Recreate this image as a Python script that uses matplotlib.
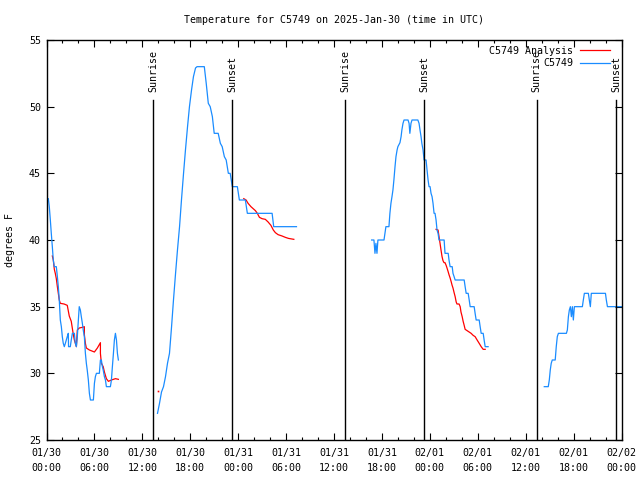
import matplotlib
matplotlib.use("Agg")
import matplotlib.pyplot as plt
import matplotlib.transforms as mtransforms
import numpy as np

# hours since 2025-01-30 00:00 UTC
blue_t1 = [0.23, 0.35, 0.48, 0.6, 0.73, 0.85, 0.98, 1.23, 1.36, 1.48, 1.6, 1.73, 1.86, 1.98, 2.1, 2.23, 2.36,
           2.48, 2.6, 2.73, 2.76, 2.98, 3.1, 3.24, 3.49, 3.6, 3.74, 3.86, 3.99, 4.1, 4.24, 4.36, 4.49, 4.6, 4.74,
           4.87, 4.99, 5.1, 5.24, 5.37, 5.5, 5.87, 6.0, 6.12, 6.25, 6.62, 6.75, 6.87, 7.0, 7.1, 7.25, 7.38, 7.5,
           8.0, 8.13, 8.25, 8.38, 8.5, 8.63, 8.76, 8.88, 9.0]
blue_v1 = [43.1, 42.5, 41.5, 40.5, 39.5, 38.5, 38.0, 38.0, 37.25, 36.5, 35.5, 34.0, 33.5, 32.75, 32.25, 32.0, 32.25,
           32.5, 32.75, 33.0, 32.0, 32.0, 32.5, 33.0, 33.0, 32.3, 32.0, 32.75, 34.0, 35.0, 34.75, 34.25, 33.75, 33.25,
           32.75, 31.5, 30.75, 30.25, 29.5, 28.5, 28.0, 28.0, 29.25, 29.75, 30.0, 30.0, 31.0, 31.0, 30.5, 30.25,
           29.75, 29.5, 29.0, 29.0, 29.5, 30.5, 31.5, 32.5, 33.0, 32.5, 31.5, 31.0]

blue_t2 = [13.9, 14.15, 14.4, 14.65, 14.9, 15.15, 15.4, 15.66, 15.9, 16.16, 16.4, 16.66, 16.9, 17.16, 17.4, 17.66,
           17.9, 18.16, 18.4, 18.66, 18.85, 19.76, 20.0, 20.26, 20.5, 20.77, 21.0, 21.5, 21.77, 22.0, 22.27, 22.5,
           22.77, 23.0, 23.27, 23.9, 24.15, 24.9, 25.15, 28.25, 28.45, 31.3]
blue_v2 = [27.0, 27.75, 28.6, 29.0, 29.75, 30.75, 31.5, 33.5, 35.5, 37.5, 39.25, 41.0, 43.0, 45.0, 46.75, 48.5,
           50.0, 51.25, 52.25, 52.9, 53.0, 53.0, 51.75, 50.25, 50.0, 49.25, 48.0, 48.0, 47.25, 47.0, 46.25, 46.0,
           45.0, 45.0, 44.0, 44.0, 43.0, 43.0, 42.0, 42.0, 41.0, 41.0]

blue_t3 = [40.71, 41.0, 41.13, 41.25, 41.38, 41.5, 42.26, 42.38, 42.5, 42.88, 43.0, 43.13, 43.26, 43.38, 43.5, 43.64,
           43.76, 43.9, 44.0, 44.26, 44.4, 44.5, 44.64, 44.77, 45.27, 45.4, 45.5, 45.64, 45.77, 46.5, 46.65, 46.77,
           46.9, 47.0, 47.15, 47.28, 47.53, 47.65, 47.78, 47.9, 48.03, 48.15, 48.28, 48.4, 48.53, 48.65, 48.78,
           48.9, 49.03, 49.15, 49.79, 49.9, 50.3, 50.4, 50.54, 50.8, 50.9, 51.04, 51.17, 52.3, 52.42, 52.55, 52.8,
           52.93, 53.05, 53.55, 53.67, 53.8, 54.18, 54.3, 54.43, 54.68, 54.8, 54.93, 55.3]
blue_v3 = [40.0, 40.0, 39.0, 39.75, 39.0, 40.0, 40.0, 40.5, 41.0, 41.0, 42.0, 42.75, 43.25, 43.75, 44.5, 45.5,
           46.25, 46.75, 47.0, 47.3, 47.75, 48.25, 48.75, 49.0, 49.0, 48.75, 48.0, 48.75, 49.0, 49.0, 48.75, 48.25,
           47.75, 47.25, 46.75, 46.0, 46.0, 45.25, 44.5, 44.0, 44.0, 43.5, 43.25, 42.75, 42.0, 42.0, 41.5,
           40.75, 40.5, 40.0, 40.0, 39.0, 39.0, 38.5, 38.0, 38.0, 37.5, 37.25, 37.0, 37.0, 36.5, 36.0, 36.0,
           35.5, 35.0, 35.0, 34.5, 34.0, 34.0, 33.5, 33.0, 33.0, 32.5, 32.0, 32.0]

blue_t4 = [62.33, 62.83, 62.96, 63.08, 63.2, 63.33, 63.7, 63.83, 63.96, 64.1, 65.1, 65.22, 65.35, 65.47, 65.6,
           65.72, 65.85, 65.97, 66.1, 67.1, 67.22, 67.35, 67.85, 67.97, 68.1, 68.22, 69.99, 70.1, 70.24, 72.0]
blue_v4 = [29.0, 29.0, 29.5, 30.25, 30.75, 31.0, 31.0, 32.0, 32.75, 33.0, 33.0, 33.25, 34.25, 34.75, 35.0,
           34.25, 35.0, 34.0, 35.0, 35.0, 35.5, 36.0, 36.0, 35.5, 35.0, 36.0, 36.0, 35.5, 35.0, 35.0]

red_t1 = [0.73, 0.85, 0.98, 1.1, 1.23, 1.36, 1.48, 1.6, 1.73, 2.2, 2.6, 2.85, 3.1, 3.36, 3.49, 3.74, 3.86, 4.1,
          4.49, 4.74, 4.74, 4.87, 4.99, 5.37, 6.0, 6.37, 6.75, 6.75, 6.87, 7.1, 7.25, 7.5, 7.75, 8.13, 8.63, 9.0]
red_v1 = [38.8, 38.5, 37.8, 37.5, 37.1, 36.5, 36.0, 35.5, 35.25, 35.2, 35.1, 34.3, 33.9, 32.9, 32.5, 32.0, 33.25,
          33.4, 33.45, 33.5, 32.9, 32.25, 31.9, 31.75, 31.6, 31.9, 32.3, 31.5, 30.75, 30.5, 30.1, 29.6, 29.4,
          29.5, 29.6, 29.55]

red_t2 = [24.7, 24.99, 25.24, 25.6, 26.16, 26.4, 26.66, 26.99, 27.4, 27.75, 28.1, 28.4, 28.66, 29.0, 29.5, 29.9,
          30.3, 30.97]
red_v2 = [43.1, 43.0, 42.75, 42.5, 42.2, 42.0, 41.7, 41.6, 41.55, 41.35, 41.1, 40.75, 40.55, 40.4, 40.3, 40.2,
          40.12, 40.05]

red_t3 = [48.78, 49.03, 49.15, 49.28, 49.4, 49.53, 49.65, 49.78, 49.9, 50.04, 50.15, 50.28, 50.4, 50.54, 50.66,
          50.79, 50.9, 51.04, 51.17, 51.3, 51.4, 51.66, 51.8, 51.9, 52.05, 52.17, 52.3, 52.42, 52.67, 52.92,
          53.17, 53.42, 53.67, 53.92, 54.18, 54.43, 54.68, 54.93]
red_v3 = [40.8, 40.75, 40.25, 39.75, 39.25, 38.75, 38.45, 38.3, 38.3, 38.1, 37.9, 37.65, 37.4, 37.15, 36.9,
          36.6, 36.4, 36.05, 35.75, 35.35, 35.2, 35.2, 35.0, 34.6, 34.25, 33.9, 33.6, 33.3, 33.2, 33.1,
          33.0, 32.85, 32.75, 32.5, 32.25, 32.0, 31.8, 31.8]

red_point_t = [13.9]
red_point_v = [28.7]

sunrise_t = [13.38, 37.4, 61.36]
sunset_t = [23.27, 47.28, 71.3]

xtick_hours = [0, 6, 12, 18, 24, 30, 36, 42, 48, 54, 60, 66, 72]
xtick_labels = ["01/30\n00:00", "01/30\n06:00", "01/30\n12:00", "01/30\n18:00",
                "01/31\n00:00", "01/31\n06:00", "01/31\n12:00", "01/31\n18:00",
                "02/01\n00:00", "02/01\n06:00", "02/01\n12:00", "02/01\n18:00",
                "02/02\n00:00"]
ytick_vals = [25, 30, 35, 40, 45, 50, 55]

BLUE = "#1a8cff"
RED = "#ff0000"
FONT = "DejaVu Sans Mono"
FS = 7.2

plt.rcParams['font.family'] = FONT
plt.rcParams['font.size'] = FS

fig = plt.figure(figsize=(6.4, 4.8), dpi=100)
ax = fig.add_axes([46.5 / 640, 1 - 440 / 480, 575 / 640, 400 / 480])

lw = 0.9
red_line, = ax.plot(red_t1, red_v1, color=RED, lw=lw, label="C5749 Analysis")
ax.plot(red_t2, red_v2, color=RED, lw=lw)
ax.plot(red_t3, red_v3, color=RED, lw=lw)
ax.plot(red_point_t, red_point_v, color=RED, marker="s", ms=1.2, lw=0, mew=0)
blue_line, = ax.plot(blue_t1, blue_v1, color=BLUE, lw=lw, label="C5749")
ax.plot(blue_t2, blue_v2, color=BLUE, lw=lw)
ax.plot(blue_t3, blue_v3, color=BLUE, lw=lw)
ax.plot(blue_t4, blue_v4, color=BLUE, lw=lw)

trans = mtransforms.blended_transform_factory(ax.transData, ax.transAxes)
for t in sunrise_t:
    ax.plot([t, t], [0, 0.85], color="black", lw=1.0, transform=trans)
    ax.text(t, 0.87, "Sunrise", rotation=90, ha="center", va="bottom", transform=trans, fontsize=FS)
for t in sunset_t:
    ax.plot([t, t], [0, 0.85], color="black", lw=1.0, transform=trans)
    ax.text(t, 0.87, "Sunset", rotation=90, ha="center", va="bottom", transform=trans, fontsize=FS)

ax.set_xlim(0, 72)
ax.set_ylim(25, 55)
ax.set_xticks(xtick_hours)
ax.set_xticklabels(xtick_labels)
ax.set_xticks(np.arange(0, 73, 2), minor=True)
ax.set_yticks(ytick_vals)
ax.tick_params(axis="both", which="major", direction="in", length=5, width=0.8,
               top=True, right=True, labelsize=FS, pad=4)
ax.tick_params(axis="x", which="major", pad=6)
ax.tick_params(axis="x", which="minor", direction="in", length=2.5, width=0.8, top=True)
ax.tick_params(axis="y", which="minor", left=False, right=False)
for lab in ax.get_xticklabels():
    lab.set_linespacing(1.6)
for s in ax.spines.values():
    s.set_linewidth(1.0)

ax.set_ylabel("degrees F", fontsize=FS, labelpad=10)
ax.set_title("Temperature for C5749 on 2025-Jan-30 (time in UTC)", fontsize=FS, pad=12)

ax.legend(handles=[red_line, blue_line], loc="upper right", bbox_to_anchor=(0.98, 0.985),
          frameon=False, markerfirst=False, handlelength=3.0, handletextpad=0.7,
          borderpad=0, borderaxespad=0, labelspacing=0.25, fontsize=FS)

fig.savefig("out.png", dpi=100)
